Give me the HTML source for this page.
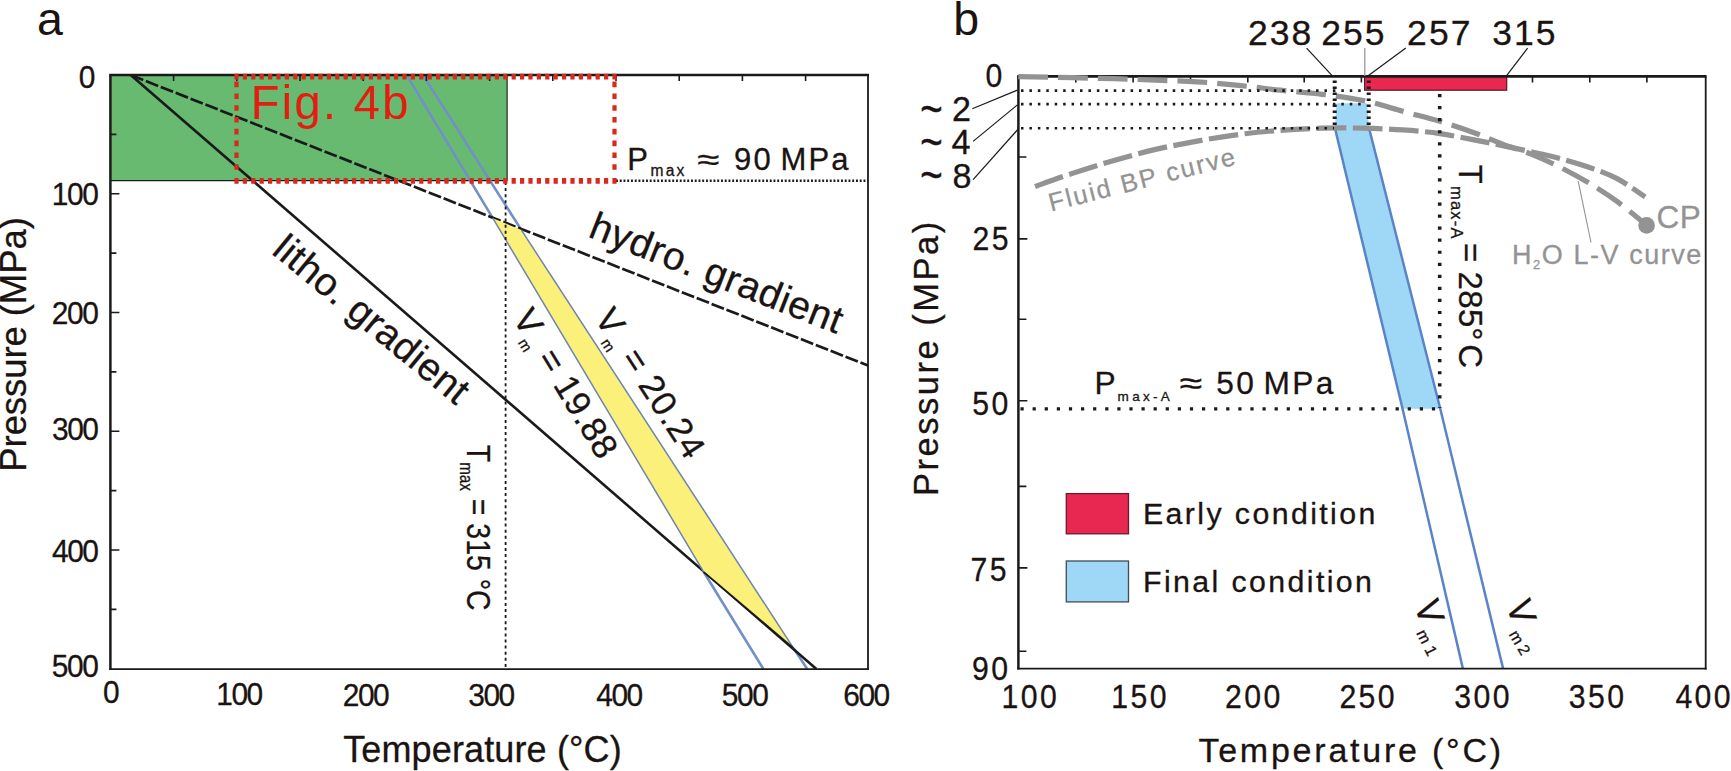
<!DOCTYPE html>
<html lang="en">
<head>
<meta charset="utf-8">
<title>P-T diagram</title>
<style>
html,body{margin:0;padding:0;background:#fff;}
body{width:1731px;height:771px;overflow:hidden;}
svg{display:block;}
text{font-family:"Liberation Sans",Arial,sans-serif;fill:currentColor;stroke:currentColor;stroke-width:.3px;stroke-linejoin:round;}
svg{color:#1a1311;}
.ax{stroke:#1a1a1a;stroke-width:2;fill:none;}
.tk{stroke:#1a1a1a;stroke-width:1.6;fill:none;}
.tl{font-size:31.5px;letter-spacing:-1.5px;}
</style>
</head>
<body>
<svg width="1731" height="771" viewBox="0 0 1731 771">
<rect x="0" y="0" width="1731" height="771" fill="#ffffff"/>

<!-- ================= PANEL A ================= -->
<g id="panelA">
  <!-- green field -->
  <rect x="110.4" y="75" width="396.8" height="105.6" fill="#68ba70"/>
  <path d="M507.1 75V180.6H110.4" fill="none" stroke="#1a1a1a" stroke-width="1.1"/>

  <!-- blue isochores -->
  <path d="M407.2 76L492.8 218.2M703.6 571.8L763.4 669" stroke="#7390c6" stroke-width="2.6" fill="none"/>
  <path d="M423.6 76L521.3 229.9M793.5 648.1L807.2 669" stroke="#7390c6" stroke-width="2.6" fill="none"/>

  <!-- gradients -->
  <path d="M131 75.2L816.4 669" stroke="#1a1a1a" stroke-width="2.6" fill="none"/>
  <path d="M131 75.2L868 365.5" stroke="#1a1a1a" stroke-width="2.7" stroke-dasharray="13.2 2.8" fill="none"/>

  <!-- yellow band -->
  <path d="M492.8 218.2L521.3 229.9L793.5 648.1L703.6 571.8Z" fill="#fbf07a"/>
  <path d="M492.8 218.2L703.6 571.8M521.3 229.9L793.5 648.1" fill="none" stroke="#6e84ad" stroke-width="1.5"/>
  <path d="M703.6 571.8L793.5 648.1" fill="none" stroke="#1a1a1a" stroke-width="1.6"/>

  <!-- Tmax dotted -->
  <path d="M505.6 182V669" stroke="#1a1a1a" stroke-width="1.8" stroke-dasharray="3 3.1" fill="none"/>
  <!-- Pmax dotted -->
  <path d="M616 180.8H868" stroke="#1a1a1a" stroke-width="2.6" stroke-dasharray="1.9 1.85" fill="none"/>

  <!-- axes -->
  <path d="M109.2 75H869" stroke="#1a1a1a" stroke-width="2.6" fill="none"/>
  <path d="M110.4 75V670" stroke="#1a1a1a" stroke-width="2.5" fill="none"/>
  <path d="M109.2 669.1H869" stroke="#1a1a1a" stroke-width="1.8" fill="none"/>
  <path d="M868 75V670" stroke="#1a1a1a" stroke-width="1.8" fill="none"/>
  <!-- left ticks -->
  <path class="tk" d="M110.4 193.7h9M110.4 312.5h9M110.4 431.3h9M110.4 550h9M110.4 134.4h6M110.4 253.1h6M110.4 371.9h6M110.4 490.6h6M110.4 609.4h6"/>
  <!-- top ticks -->
  <path class="tk" d="M173.6 75v6M236.8 75v6M300 75v6M363.2 75v6M426.4 75v6M489.6 75v6M552.8 75v6M616 75v6M679.2 75v6M742.4 75v6M805.6 75v6"/>

  <!-- red dotted box -->
  <path d="M234.4 76.6H616.6M234.4 180.8H616.6" fill="none" stroke="#d8291b" stroke-width="5.7" stroke-dasharray="4.2 4.2"/>
  <path d="M236.5 81.6V176M614.5 81.6V176" fill="none" stroke="#d8291b" stroke-width="4.2" stroke-dasharray="5.6 6.2"/>
  <text x="250.7" y="118.7" font-size="47.4" style="color:#e01f12;stroke-width:0" textLength="158" lengthAdjust="spacing">Fig. 4b</text>

  <!-- y tick labels -->
  <g class="tl" text-anchor="end">
    <text transform="translate(93.9 88.4) scale(.95 1)">0</text>
    <text transform="translate(97.4 205.4) scale(.95 1)">100</text>
    <text transform="translate(97.5 323.6) scale(.95 1)">200</text>
    <text transform="translate(97.6 440.4) scale(.95 1)">300</text>
    <text transform="translate(97.6 562) scale(.95 1)">400</text>
    <text transform="translate(97.4 676.8) scale(.95 1)">500</text>
  </g>
  <!-- x tick labels -->
  <g class="tl" text-anchor="middle">
    <text transform="translate(110.6 703.4) scale(.95 1)">0</text>
    <text transform="translate(239 705.3) scale(.95 1)">100</text>
    <text transform="translate(365.5 706) scale(.95 1)">200</text>
    <text transform="translate(491 706) scale(.95 1)">300</text>
    <text transform="translate(619 706) scale(.95 1)">400</text>
    <text transform="translate(744.6 706) scale(.95 1)">500</text>
    <text transform="translate(866 706) scale(.95 1)">600</text>
  </g>

  <text x="343.2" y="762.3" font-size="36" textLength="278.5" lengthAdjust="spacing">Temperature (°C)</text>
  <text transform="translate(25.5 471.7) rotate(-90)" font-size="36.5" textLength="254.5" lengthAdjust="spacing">Pressure (MPa)</text>
  <text x="37" y="35" font-size="46.5" style="stroke-width:0">a</text>

  <text transform="translate(270.6 253) rotate(39.5)" font-size="39" textLength="240.5" lengthAdjust="spacing">litho. gradient</text>
  <text transform="translate(587 236.2) rotate(21.4)" font-size="39" textLength="268" lengthAdjust="spacing">hydro. gradient</text>

  <text transform="translate(511.9 318) rotate(58.7)" font-size="35" letter-spacing=".45">V<tspan font-size="15" dy="8">m</tspan><tspan dy="-8"> = 19.88</tspan></text>
  <text transform="translate(593.8 318.1) rotate(57)" font-size="35" letter-spacing=".8">V<tspan font-size="15" dy="8">m</tspan><tspan dy="-8"> = 20.24</tspan></text>

  <text transform="translate(466.8 444.8) rotate(90) scale(.87 1)" font-size="32.7">T<tspan font-size="17.5" dy="7">max</tspan><tspan dy="-7"> = 315 °C</tspan></text>

  <g font-size="31" letter-spacing="2.2">
    <text x="627.2" y="169.8">P</text>
    <text x="650.5" y="175.8" font-size="15.6">max</text>
    <text transform="translate(697.3 169.8) scale(1.3 1)">≈</text>
    <text x="734" y="169.8">90</text>
    <text x="780.4" y="169.8">MPa</text>
  </g>
</g>

<!-- ================= PANEL B ================= -->
<g id="panelB">
  <!-- blue band -->
  <path d="M1336.5 103.2H1367L1369 128L1440.3 408.7H1402.6L1334.9 128Z" fill="#9fd8f6"/>
  <path d="M1334.9 128L1402.5 408.5L1462.9 668.6" stroke="#5b84c8" stroke-width="2.5" fill="none"/>
  <path d="M1369 128L1440.2 408.5L1503.1 668.6" stroke="#5b84c8" stroke-width="2.5" fill="none"/>

  <!-- red bar -->
  <rect x="1364.6" y="76.4" width="142.1" height="13.8" fill="#e82850" stroke="#5a1424" stroke-width="1.2"/>

  <!-- axes -->
  <path d="M1017.2 76.4H1706.6" stroke="#1a1a1a" stroke-width="2.6" fill="none"/>
  <path d="M1018.4 76.4V669.5" stroke="#1a1a1a" stroke-width="2.5" fill="none"/>
  <path d="M1017.2 668.6H1706.6" stroke="#1a1a1a" stroke-width="1.9" fill="none"/>
  <path d="M1705.7 76.4V669.5" stroke="#1a1a1a" stroke-width="1.8" fill="none"/>
  <!-- ticks -->
  <path class="tk" d="M1018.4 157h8M1018.4 238.9h9M1018.4 319.2h8M1018.4 400.7h9M1018.4 486.4h8M1018.4 567.9h9M1018.4 651.2h8"/>
  <path class="tk" d="M1075.8 76.4v6M1133.1 76.4v6M1190.5 76.4v6M1247.8 76.4v6M1304.2 76.4v6M1361.4 76.4v6M1532.5 76.4v6M1589.8 76.4v6M1646.9 76.4v6"/>

  <!-- gray curves -->
  <path d="M1018.3 76.6C1027.3 76.8 1056.5 77.3 1072.4 77.7C1088.4 78.1 1100.1 78.3 1114.0 78.7C1127.9 79.1 1141.7 79.7 1155.6 80.2C1169.5 80.7 1183.3 80.9 1197.2 81.8C1211.1 82.7 1224.9 84.0 1238.8 85.4C1252.7 86.8 1266.5 88.7 1280.4 90.2C1294.3 91.7 1308.1 92.6 1322.0 94.3C1335.9 96.0 1350.1 97.8 1363.6 100.6C1377.1 103.4 1390.1 107.8 1402.8 111.3C1415.5 114.8 1428.0 117.7 1439.9 121.3C1451.8 124.9 1463.6 128.9 1474.1 132.7C1484.5 136.5 1493.1 140.5 1502.6 144.1C1512.1 147.7 1521.6 150.3 1531.1 154.1C1540.6 157.9 1550.2 162.2 1559.7 167.0C1569.2 171.8 1578.7 176.9 1588.2 182.6C1597.7 188.3 1607.2 194.3 1616.7 201.2C1626.2 208.1 1640.5 220.2 1645.2 224.0" stroke="#939393" stroke-width="5.2" stroke-dasharray="29.7 10.1" fill="none"/>
  <path d="M1035.0 186.5C1041.2 184.3 1059.2 177.7 1072.4 173.4C1085.6 169.1 1100.1 164.5 1114.0 160.5C1127.9 156.5 1141.7 152.6 1155.6 149.4C1169.5 146.2 1183.3 143.6 1197.2 141.1C1211.1 138.6 1224.9 136.3 1238.8 134.5C1252.7 132.7 1266.5 131.4 1280.4 130.3C1294.3 129.2 1308.1 128.5 1322.0 128.2C1335.9 127.8 1350.1 127.9 1363.6 128.2C1377.1 128.5 1390.1 129.0 1402.8 129.9C1415.5 130.8 1428.0 131.9 1439.9 133.6C1451.8 135.3 1463.6 137.9 1474.1 139.9C1484.5 141.9 1493.1 143.6 1502.6 145.6C1512.1 147.6 1521.6 149.7 1531.1 151.8C1540.6 153.9 1550.2 155.9 1559.7 158.4C1569.2 160.9 1578.7 163.7 1588.2 167.0C1597.7 170.3 1607.2 173.4 1616.7 178.4C1626.2 183.4 1640.5 193.8 1645.2 196.9" stroke="#939393" stroke-width="5.2" stroke-dasharray="29.6 6.5" fill="none"/>
  <circle cx="1646.6" cy="225.4" r="8.3" fill="#939393"/>
  <path d="M1578.2 181.2L1591 242.5" stroke="#939393" stroke-width="1.1" fill="none"/>

  <!-- dotted guides -->
  <g stroke="#1a1a1a" fill="none">
    <path d="M1021 90.6H1364M1021 104.1H1366M1021 128.2H1334" stroke-width="2.6" stroke-dasharray="2.5 5.93"/>
    <path d="M1334.7 80.5V127" stroke-width="4" stroke-dasharray="2.6 3.4"/>
    <path d="M1368.7 80.5V127" stroke-width="4" stroke-dasharray="2.6 3.4"/>
    <path d="M1439.7 94V408" stroke-width="3.6" stroke-dasharray="3.2 8.85"/>
    <path d="M1020.5 408.9H1440" stroke-width="3.2" stroke-dasharray="3.2 8.9"/>
  </g>

  <!-- leader lines -->
  <g stroke="#1a1a1a" stroke-width="1.2" fill="none">
    <path d="M1306.6 48.1L1332.1 75.6"/>
    <path d="M1405.8 48.1L1368.5 75.6"/>
    <path d="M1527.6 48.1L1506.6 75.6"/>
    <path d="M972.3 108.8L1017.4 90.1"/>
    <path d="M973.1 141.4L1017.4 104.9"/>
    <path d="M973.1 179.6L1018.2 129"/>
  </g>
  <path d="M1364.8 48.1V76" stroke="#9a9a9a" stroke-width="1.3" fill="none"/>

  <!-- top numbers -->
  <g font-size="35.5" letter-spacing="2.1">
    <text x="1247.9" y="44.5">238</text>
    <text x="1321.2" y="44.5">255</text>
    <text x="1407.1" y="44.5">257</text>
    <text x="1492.2" y="44.5">315</text>
  </g>

  <!-- y labels -->
  <g font-size="32.5" letter-spacing="2.6">
    <text transform="translate(985.5 87.1) scale(.93 1)">0</text>
    <text transform="translate(972.6 249.8) scale(.93 1)">25</text>
    <text transform="translate(972.3 414.7) scale(.93 1)">50</text>
    <text transform="translate(970.6 580.8) scale(.93 1)">75</text>
    <text transform="translate(972 680.0) scale(.93 1)">90</text>
  </g>
  <g font-size="34.2">
    <text transform="translate(920.3 123.5) scale(1.12 1.3)" style="stroke-width:.5px">~</text><text x="952" y="121.3">2</text>
    <text transform="translate(920.3 157) scale(1.12 1.3)" style="stroke-width:.5px">~</text><text x="951.4" y="153.5">4</text>
    <text transform="translate(920.3 190.3) scale(1.12 1.3)" style="stroke-width:.5px">~</text><text x="952.5" y="187.7">8</text>
  </g>
  <!-- x labels -->
  <g font-size="32.5" letter-spacing="2.6">
    <text transform="translate(1001.5 708.0) scale(.93 1)">100</text>
    <text transform="translate(1111.2 708.0) scale(.93 1)">150</text>
    <text transform="translate(1225 708.0) scale(.93 1)">200</text>
    <text transform="translate(1339.4 708.0) scale(.93 1)">250</text>
    <text transform="translate(1454.2 708.0) scale(.93 1)">300</text>
    <text transform="translate(1568.8 708.0) scale(.93 1)">350</text>
    <text transform="translate(1675.4 708.0) scale(.93 1)">400</text>
  </g>

  <text x="1198.4" y="762.3" font-size="34" letter-spacing="2.77">Temperature (°C)</text>
  <text transform="translate(937.8 495.9) rotate(-90)" font-size="34.5" letter-spacing="2.5">Pressure (MPa)</text>
  <text x="953.2" y="34.7" font-size="46.5" style="stroke-width:0">b</text>

  <text transform="translate(1051 211.4) rotate(-14.2)" font-size="25.5" letter-spacing="2" style="color:#939393">Fluid BP curve</text>
  <text x="1656.4" y="227.6" font-size="31.5" letter-spacing=".6" style="color:#939393">CP</text>
  <text x="1512" y="263.9" font-size="27" letter-spacing="1.55" style="color:#939393">H<tspan font-size="13" dy="5">2</tspan><tspan dy="-5">O L-V curve</tspan></text>

  <!-- Tmax-A -->
  <g transform="translate(1458.7 0) rotate(90)" font-size="33">
    <text transform="translate(164.8 0) scale(.94 1)">T</text>
    <text x="186" y="7.5" font-size="16.5" letter-spacing="1.2">max-A</text>
    <text x="243.1" y="0">=</text>
    <text x="271.5" y="0" letter-spacing=".4">285</text>
    <text x="327.2" y="0">°</text>
    <text x="344.2" y="0">C</text>
  </g>

  <!-- Pmax-A -->
  <g font-size="31.7" letter-spacing="2.3">
    <text x="1094.4" y="393.7">P</text>
    <text x="1117.6" y="400.7" font-size="13.5" letter-spacing="3.3">max-A</text>
    <text transform="translate(1179.5 393.7) scale(1.3 1)">≈</text>
    <text x="1216.3" y="393.7">50</text>
    <text x="1263.6" y="393.7">MPa</text>
  </g>

  <!-- legend -->
  <rect x="1066.3" y="493.6" width="62.2" height="40.2" fill="#e82850" stroke="#6a1a2c" stroke-width="1.3"/>
  <rect x="1066.3" y="561" width="62.2" height="40.9" fill="#9fd8f6" stroke="#3f4d58" stroke-width="1.3"/>
  <text x="1143" y="524" font-size="30.3" letter-spacing="2.4">Early condition</text>
  <text x="1143" y="591.5" font-size="30.3" letter-spacing="2.4">Final condition</text>

  <!-- Vm1 / Vm2 -->
  <text transform="translate(1413.9 604.8) rotate(71.6) scale(.95 1)" font-size="36.4">V</text>
  <text transform="translate(1415.9 632.9) rotate(63.4)" font-size="16" letter-spacing="4.9">m1</text>
  <text transform="translate(1506 604.8) rotate(71.6) scale(.95 1)" font-size="36.4">V</text>
  <text transform="translate(1508.5 634.3) rotate(60)" font-size="16" letter-spacing="3.5">m2</text>
</g>
</svg>
</body>
</html>
